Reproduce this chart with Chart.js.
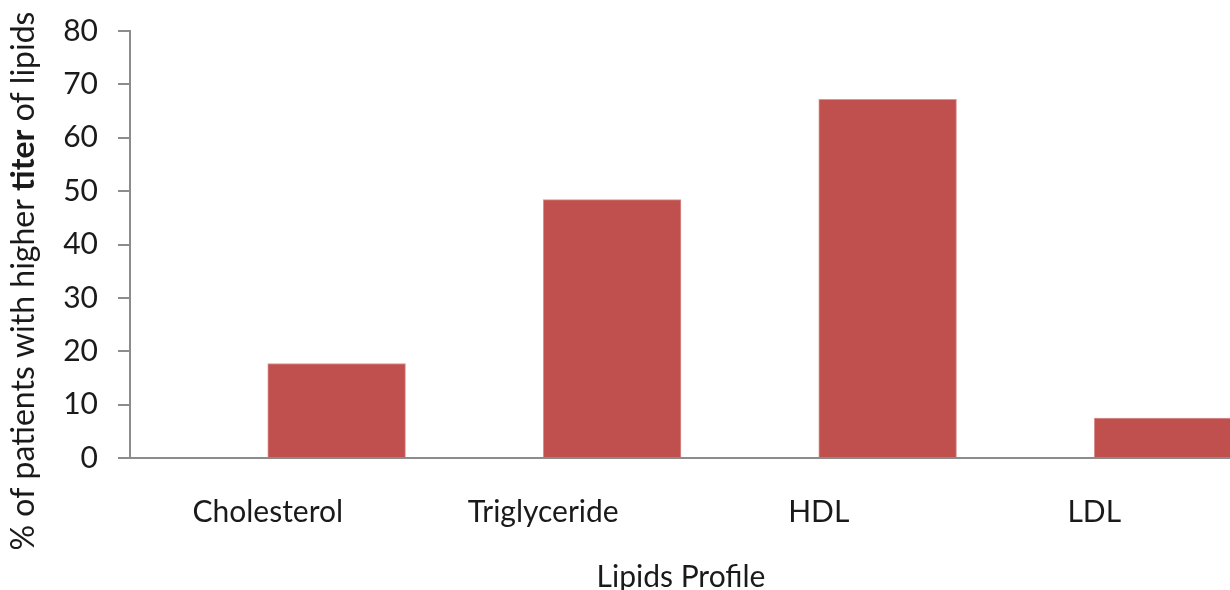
<!DOCTYPE html>
<html>
<head>
<meta charset="utf-8">
<script src="https://cdn.jsdelivr.net/npm/chart.js@4/dist/chart.umd.min.js"></script>
<style>
  html, body { margin: 0; padding: 0; background: #fff; overflow: hidden; }
  #wrap { width: 1240px; height: 590px; position: relative; }
</style>
</head>
<body>
<div id="wrap"><canvas id="lipidChart"></canvas></div>
<script>
// DATI
const categories = ['Cholesterol', 'Triglyceride', 'HDL', 'LDL'];
const percentHigher = [17.7, 48.4, 67.2, 7.5];
const spacer = [null, null, null, null]; // serie vuota a sinistra (come nell'originale Excel)
const yTicks = [0, 10, 20, 30, 40, 50, 60, 70, 80];

const FONT = "Lato, 'Open Sans', sans-serif";
const SIZE = 30;
const TEXT = '#1a1a1a';
const AXIS = '#8c8c8c';

// titolo asse Y con "titer" in grassetto
const yTitlePlugin = {
  id: 'yTitle',
  afterDraw(chart) {
    const ctx = chart.ctx;
    const parts = [
      ['% of patients with higher ', 'normal'],
      ['titer', 'bold'],
      [' of lipids', 'normal']
    ];
    ctx.save();
    ctx.fillStyle = TEXT;
    ctx.textBaseline = 'middle';
    ctx.textAlign = 'left';
    let total = 0;
    parts.forEach(p => { ctx.font = p[1] + ' 32px ' + FONT; total += ctx.measureText(p[0]).width; });
    ctx.translate(24, 281);
    ctx.rotate(-Math.PI / 2);
    let x = -total / 2;
    parts.forEach(p => {
      ctx.font = p[1] + ' 32px ' + FONT;
      ctx.fillText(p[0], x, 0);
      x += ctx.measureText(p[0]).width;
    });
    ctx.restore();
  }
};

new Chart(document.getElementById('lipidChart'), {
  type: 'bar',
  data: {
    labels: categories,
    datasets: [
      { data: spacer, backgroundColor: 'transparent' },
      { data: percentHigher, backgroundColor: '#C0504D', borderColor: '#D99694', borderWidth: 1 }
    ]
  },
  options: {
    responsive: true,
    maintainAspectRatio: false,
    animation: false,
    layout: { padding: { top: 31, right: 8, left: 0, bottom: 0 } },
    plugins: { legend: { display: false }, tooltip: { enabled: false } },
    datasets: { bar: { categoryPercentage: 1, barPercentage: 1 } },
    scales: {
      x: {
        grid: { display: false },
        border: { display: true, color: AXIS, width: 2 },
        ticks: { color: TEXT, font: { family: FONT, size: SIZE }, padding: 28, maxRotation: 0 },
        title: { display: true, text: 'Lipids Profile', color: TEXT, font: { family: FONT, size: SIZE }, padding: { top: 0, bottom: -5 } },
        afterFit: s => { s.height = 132; s.paddingLeft = 0; s.paddingRight = 0; }
      },
      y: {
        min: 0, max: 80,
        afterBuildTicks: s => { s.ticks = yTicks.map(v => ({ value: v })); },
        grid: { drawOnChartArea: false, drawTicks: true, tickLength: 12, color: AXIS, lineWidth: 2 },
        border: { display: true, color: AXIS, width: 2 },
        ticks: { color: TEXT, font: { family: FONT, size: SIZE }, padding: 20 },
        afterFit: s => { s.width = 130; s.paddingTop = 0; s.paddingBottom = 0; }
      }
    }
  },
  plugins: [yTitlePlugin]
});
</script>
</body>
</html>
